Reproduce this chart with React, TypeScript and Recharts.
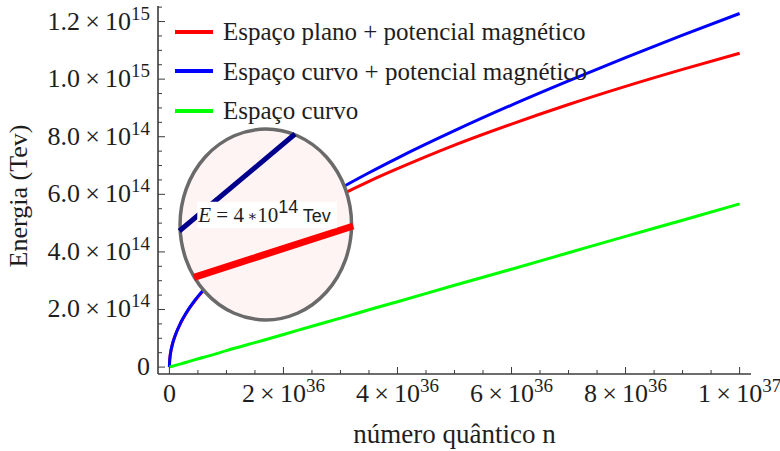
import React from 'react';
import {
  LineChart,
  Line,
  XAxis,
  YAxis,
  Legend,
  Label,
  ReferenceArea,
  ReferenceLine,
  ReferenceDot,
} from 'recharts';

const SERIF = '"Liberation Serif", "DejaVu Serif", serif';
const SANS = '"Liberation Sans", "DejaVu Sans", sans-serif';
const INK = '#1e1e1e';
const FRAME = '#3c3c3c';

// Quantum number n, in units of 1e36
const quantumN = [0, 0.005, 0.01, 0.02, 0.05, 0.1, 0.2, 0.3, 0.45, 0.6, 0.8, 1, 1.5, 2, 2.5, 3, 3.5, 4, 5, 6, 7, 8, 9, 10];
// Energies, in units of 1e14 Tev
const energyFlatMagnetic = [0, 0.24, 0.34, 0.49, 0.77, 1.09, 1.54, 1.89, 2.31, 2.67, 3.08, 3.45, 4.22, 4.88, 5.45, 5.97, 6.45, 6.89, 7.71, 8.44, 9.12, 9.75, 10.34, 10.9];
const energyCurvedMagnetic = [0, 0.24, 0.34, 0.49, 0.77, 1.09, 1.55, 1.9, 2.33, 2.69, 3.12, 3.49, 4.31, 5.0, 5.63, 6.21, 6.75, 7.26, 8.21, 9.1, 9.94, 10.75, 11.53, 12.28];
const energyCurved = [0, 0, 0.01, 0.01, 0.03, 0.06, 0.11, 0.17, 0.26, 0.34, 0.45, 0.57, 0.85, 1.13, 1.42, 1.7, 1.99, 2.27, 2.84, 3.4, 3.97, 4.54, 5.1, 5.67];

const seriesNames = [
  'Espaço plano + potencial magnético',
  'Espaço curvo + potencial magnético',
  'Espaço curvo',
];
const seriesKeys = ['flat', 'curvedMag', 'curved'];
const seriesColors = ['#ff0000', '#0000ff', '#00ff00'];

// Axis ticks (major ones carry a label: mantissa and power of ten)
const xMajorTicks = [0, 2, 4, 6, 8, 10];
const xTickLabels = [['0', ''], ['2', '36'], ['4', '36'], ['6', '36'], ['8', '36'], ['1', '37']];
const xAllTicks = [0, 0.5, 1, 1.5, 2, 2.5, 3, 3.5, 4, 4.5, 5, 5.5, 6, 6.5, 7, 7.5, 8, 8.5, 9, 9.5, 10];
const yMajorTicks = [0, 2, 4, 6, 8, 10, 12];
const yTickLabels = [['0', ''], ['2.0', '14'], ['4.0', '14'], ['6.0', '14'], ['8.0', '14'], ['1.0', '15'], ['1.2', '15']];
const yAllTicks = [0, 0.5, 1, 1.5, 2, 2.5, 3, 3.5, 4, 4.5, 5, 5.5, 6, 6.5, 7, 7.5, 8, 8.5, 9, 9.5, 10, 10.5, 11, 11.5, 12, 12.5];

const xDomain = [-0.2, 10.2];
const yDomain = [-0.24, 12.54];

// Magnifier inset, placed in data units
const lensBox = { x1: 0.156, x2: 3.225, y1: 1.576, y2: 8.327 };
const lensBlue = [{ x: 0.174, y: 4.726 }, { x: 2.203, y: 8.095 }];
const lensRed = [{ x: 0.431, y: 3.118 }, { x: 3.225, y: 4.9 }];
const lensLabelBox = { x1: 0.489, x2: 2.934, y1: 4.82, y2: 5.744 };
const lensLabelAnchor = { x: 0.506, y: 5.049 };

const chartData = quantumN.map((n, i) => ({
  n,
  flat: energyFlatMagnetic[i],
  curvedMag: energyCurvedMagnetic[i],
  curved: energyCurved[i],
}));

const MAJOR_LEN = 7;
const MINOR_LEN = 4;
const FONT = 26;
const SUP = 19;
const TITLE_FONT = 27;

const PowerLabel = ({ x, y, anchor, mant, exp }: any) => (
  <text x={x} y={y} textAnchor={anchor} fontFamily={SERIF} fontSize={FONT} fill={INK}>
    {exp ? (
      <>
        <tspan>{mant}{'\u2009×\u2009'}10</tspan>
        <tspan dy={-10} fontSize={SUP}>{exp}</tspan>
      </>
    ) : (
      <tspan>{mant}</tspan>
    )}
  </text>
);

const BottomTick = (props: any) => {
  const { x, y, payload } = props;
  const idx = xMajorTicks.indexOf(payload.value);
  const major = idx >= 0;
  return (
    <g>
      <line x1={x} y1={y} x2={x} y2={y - (major ? MAJOR_LEN : MINOR_LEN)} stroke={FRAME} strokeWidth={1} />
      {major && (
        <PowerLabel x={x} y={y + 28} anchor="middle" mant={xTickLabels[idx][0]} exp={xTickLabels[idx][1]} />
      )}
    </g>
  );
};

const TopTick = (props: any) => {
  const { x, y, payload } = props;
  const major = xMajorTicks.indexOf(payload.value) >= 0;
  return <line x1={x} y1={y} x2={x} y2={y + (major ? MAJOR_LEN : MINOR_LEN)} stroke={FRAME} strokeWidth={1} />;
};

const LeftTick = (props: any) => {
  const { x, y, payload } = props;
  const idx = yMajorTicks.indexOf(payload.value);
  const major = idx >= 0;
  return (
    <g>
      <line x1={x} y1={y} x2={x + (major ? MAJOR_LEN : MINOR_LEN)} y2={y} stroke={FRAME} strokeWidth={1} />
      {major && (
        <PowerLabel x={x - 8} y={y + 8} anchor="end" mant={yTickLabels[idx][0]} exp={yTickLabels[idx][1]} />
      )}
    </g>
  );
};

const RightTick = (props: any) => {
  const { x, y, payload } = props;
  const major = yMajorTicks.indexOf(payload.value) >= 0;
  return <line x1={x} y1={y} x2={x - (major ? MAJOR_LEN : MINOR_LEN)} y2={y} stroke={FRAME} strokeWidth={1} />;
};

const XTitle = (props: any) => {
  const { viewBox } = props;
  return (
    <text x={viewBox.x + viewBox.width / 2} y={viewBox.y + 69} textAnchor="middle" fontFamily={SERIF} fontSize={TITLE_FONT} fill={INK}>
      número quântico n
    </text>
  );
};

const YTitle = (props: any) => {
  const { viewBox } = props;
  const cx = 27;
  const cy = viewBox.y + viewBox.height / 2 + 6;
  return (
    <text x={cx} y={cy} transform={`rotate(-90, ${cx}, ${cy})`} textAnchor="middle" fontFamily={SERIF} fontSize={FONT} fill={INK}>
      Energia (Tev)
    </text>
  );
};

const LegendBox = () => (
  <div style={{ fontFamily: SERIF, fontSize: 25, color: INK, lineHeight: 1 }}>
    {seriesNames.map((name, i) => (
      <div key={name} style={{ display: 'flex', alignItems: 'center', height: 39.5, whiteSpace: 'nowrap' }}>
        <span style={{ display: 'inline-block', width: 38, height: 4, background: seriesColors[i], marginRight: 10 }} />
        <span>{name}</span>
      </div>
    ))}
  </div>
);

const LensShape = (props: any) => {
  const { x, y, width, height } = props;
  const sw = 3.5;
  return (
    <ellipse
      cx={x + width / 2}
      cy={y + height / 2}
      rx={width / 2 - sw / 2}
      ry={height / 2 - sw / 2}
      fill="#fff4f4"
      stroke="#6a6a6a"
      strokeWidth={sw}
    />
  );
};

const LensLabel = (props: any) => {
  const { cx, cy } = props;
  return (
    <text x={cx} y={cy} fontFamily={SERIF} fontSize={21} fill={INK}>
      <tspan fontStyle="italic">E</tspan>
      <tspan>{' = 4'}</tspan>
      <tspan fontSize={15} dy={-1}>{'\u2009∗'}</tspan>
      <tspan dy={1}>10</tspan>
      <tspan dy={-9} fontSize={18} fontFamily={SANS}>14</tspan>
      <tspan dy={9} fontSize={18} fontFamily={SANS}>{' Tev'}</tspan>
    </text>
  );
};

export default function App() {
  return (
    <div style={{ position: 'absolute', left: 0, top: 0, width: 780, height: 451, background: '#ffffff' }}>
      <LineChart width={780} height={451} data={chartData} margin={{ top: 6, right: 29, bottom: 0, left: 0 }}>
        <XAxis
          dataKey="n"
          type="number"
          domain={xDomain}
          allowDataOverflow
          ticks={xAllTicks}
          interval={0}
          tickSize={0}
          tickMargin={0}
          tickLine={false}
          axisLine={{ stroke: FRAME, strokeWidth: 1.6 }}
          tick={(p: any) => <BottomTick {...p} />}
          height={77}
        >
          <Label content={XTitle} />
        </XAxis>
        <XAxis
          xAxisId="top"
          orientation="top"
          type="number"
          domain={xDomain}
          allowDataOverflow
          ticks={xAllTicks}
          interval={0}
          tickSize={0}
          tickMargin={0}
          tickLine={false}
          axisLine={{ stroke: FRAME, strokeWidth: 1.6 }}
          tick={(p: any) => <TopTick {...p} />}
          height={0}
        />
        <YAxis
          type="number"
          domain={yDomain}
          allowDataOverflow
          ticks={yAllTicks}
          interval={0}
          tickSize={0}
          tickMargin={0}
          tickLine={false}
          axisLine={{ stroke: FRAME, strokeWidth: 1.6 }}
          tick={(p: any) => <LeftTick {...p} />}
          width={158}
        >
          <Label content={YTitle} />
        </YAxis>
        <YAxis
          yAxisId="right"
          orientation="right"
          type="number"
          domain={yDomain}
          allowDataOverflow
          ticks={yAllTicks}
          interval={0}
          tickSize={0}
          tickMargin={0}
          tickLine={false}
          axisLine={{ stroke: FRAME, strokeWidth: 1.6 }}
          tick={(p: any) => <RightTick {...p} />}
          width={0}
        />
        <Legend
          layout="vertical"
          align="center"
          verticalAlign="middle"
          content={LegendBox}
          wrapperStyle={{ left: 175, top: 12, width: 'auto', height: 'auto' }}
        />
        {seriesKeys.map((key, i) => (
          <Line
            key={key}
            dataKey={key}
            name={seriesNames[i]}
            type="monotone"
            stroke={seriesColors[i]}
            strokeWidth={3}
            dot={false}
            activeDot={false}
            isAnimationActive={false}
          />
        ))}
        <ReferenceArea {...lensBox} shape={LensShape} ifOverflow="visible" zIndex={600} />
        <ReferenceLine segment={lensBlue} stroke="#00008c" strokeWidth={5} ifOverflow="visible" zIndex={700} />
        <ReferenceLine segment={lensRed} stroke="#ff0000" strokeWidth={7} ifOverflow="visible" zIndex={700} />
        <ReferenceArea {...lensLabelBox} fill="#ffffff" fillOpacity={1} stroke="none" ifOverflow="visible" zIndex={800} />
        <ReferenceDot {...lensLabelAnchor} r={0} shape={LensLabel} ifOverflow="visible" zIndex={900} />
      </LineChart>
    </div>
  );
}
